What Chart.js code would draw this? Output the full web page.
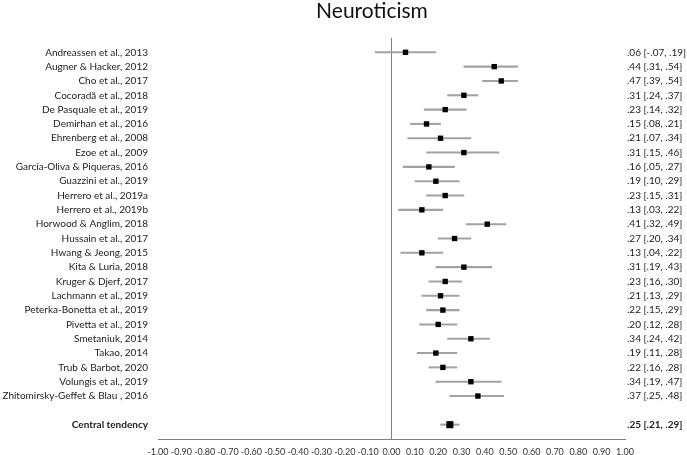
<!DOCTYPE html>
<html>
<head>
<meta charset="utf-8">
<script src="https://cdn.jsdelivr.net/npm/chart.js@4.4.1/dist/chart.umd.min.js"></script>
<style>
  body { margin: 0; background: #fff; }
  #wrap { position: relative; width: 687px; height: 455px; }
  #title { position: absolute; left: 372px; top: -3px; transform: translateX(-50%);
           font-family: Lato, "Open Sans", sans-serif; font-size: 21px; color: #111; white-space: nowrap; }
</style>
</head>
<body>
<div id="wrap">
  <canvas id="chart" width="687" height="455"></canvas>
  <div id="title">Neuroticism</div>
</div>
<script>
const studies = [
    'Andreassen et al., 2013', 'Augner & Hacker, 2012', 'Cho et al., 2017', 'Cocoradă et al., 2018',
    'De Pasquale et al., 2019', 'Demirhan et al., 2016', 'Ehrenberg et al., 2008', 'Ezoe et al., 2009',
    'García-Oliva & Piqueras, 2016', 'Guazzini et al., 2019', 'Herrero et al., 2019a', 'Herrero et al., 2019b',
    'Horwood & Anglim, 2018', 'Hussain et al., 2017', 'Hwang & Jeong, 2015', 'Kita & Luria, 2018',
    'Kruger & Djerf, 2017', 'Lachmann et al., 2019', 'Peterka-Bonetta et al., 2019', 'Pivetta et al., 2019',
    'Smetaniuk, 2014', 'Takao, 2014', 'Trub & Barbot, 2020', 'Volungis et al., 2019',
    'Zhitomirsky-Geffet & Blau , 2016'
];
const estimates = [.06, .44, .47, .31, .23, .15, .21, .31, .16, .19, .23, .13, .41, .27, .13, .31, .23, .21, .22, .20, .34, .19, .22, .34, .37];
const lower = [-.07, .31, .39, .24, .14, .08, .07, .15, .05, .10, .15, .03, .32, .20, .04, .19, .16, .13, .15, .12, .24, .11, .16, .19, .25];
const upper = [.19, .54, .54, .37, .32, .21, .34, .46, .27, .29, .31, .22, .49, .34, .22, .43, .30, .29, .29, .28, .42, .28, .28, .47, .48];

const centralLabel = 'Central tendency';
const centralEst = .25, centralLo = .21, centralHi = .29;

const xTicksMin = -1, xTicksMax = 1, xStep = 0.1;

// row layout: blank, studies, blank, central, blank
const fmt = v => (v < 0 ? '-' : '') + Math.abs(v).toFixed(2).replace(/^0/, '');
const leftLabels = [''].concat(studies, ['', centralLabel, '']);
const rightLabels = [''].concat(
    studies.map((s, i) => fmt(estimates[i]) + ' [' + fmt(lower[i]) + ', ' + fmt(upper[i]) + ']'),
    ['', fmt(centralEst) + ' [' + fmt(centralLo) + ', ' + fmt(centralHi) + ']', '']);
const ciData = [null].concat(studies.map((s, i) => [lower[i], upper[i]]), [null, [centralLo, centralHi], null]);
const pointData = [null].concat(estimates, [null, centralEst, null]);
const centralIndex = studies.length + 2;

const FONT = 'Lato, "Open Sans", sans-serif';

new Chart(document.getElementById('chart'), {
    type: 'bar',
    data: {
        labels: leftLabels,
        datasets: [
            {
                type: 'line',
                data: pointData,
                showLine: false,
                pointStyle: 'rect',
                pointRadius: ctx => ctx.dataIndex === centralIndex ? 5 : 3.8,
                pointBackgroundColor: '#000',
                pointBorderWidth: 0,
                order: 0
            },
            {
                data: ciData,
                backgroundColor: '#a2a2a2',
                barThickness: 1.4,
                borderWidth: 0,
                order: 1
            }
        ]
    },
    options: {
        indexAxis: 'y',
        responsive: false,
        animation: false,
        layout: { padding: { top: 38, left: 0, right: 0, bottom: 0 } },
        plugins: { legend: { display: false }, tooltip: { enabled: false }, title: { display: false } },
        scales: {
            x: {
                type: 'linear',
                min: xTicksMin,
                max: xTicksMax,
                afterFit: scale => { scale.height = 16; },
                ticks: {
                    stepSize: xStep,
                    autoSkip: false,
                    maxRotation: 0,
                    padding: 8,
                    color: '#333',
                    font: { family: FONT, size: 9 },
                    callback: v => (Math.abs(v) < 1e-9 ? 0 : v).toFixed(2)
                },
                grid: {
                    drawTicks: false,
                    color: ctx => (ctx.tick && Math.abs(ctx.tick.value) < 1e-9) ? '#808080' : 'rgba(0,0,0,0)',
                    lineWidth: 1
                },
                border: { display: true, color: '#808080', width: 1 }
            },
            y: {
                type: 'category',
                offset: false,
                afterFit: scale => { scale.width = 158; },
                grid: { display: false, drawTicks: false },
                border: { display: false },
                ticks: {
                    autoSkip: false,
                    padding: 10,
                    color: '#222',
                    font: ctx => ({ family: FONT, size: 10, weight: ctx.index === centralIndex ? 'bold' : 'normal' })
                }
            },
            y2: {
                type: 'category',
                position: 'right',
                labels: rightLabels,
                offset: false,
                afterFit: scale => { scale.width = 62; },
                grid: { display: false, drawTicks: false },
                border: { display: false },
                ticks: {
                    autoSkip: false,
                    padding: 2,
                    color: '#222',
                    font: ctx => ({ family: FONT, size: 10, weight: ctx.index === centralIndex ? 'bold' : 'normal' })
                }
            }
        }
    }
});
</script>
</body>
</html>
